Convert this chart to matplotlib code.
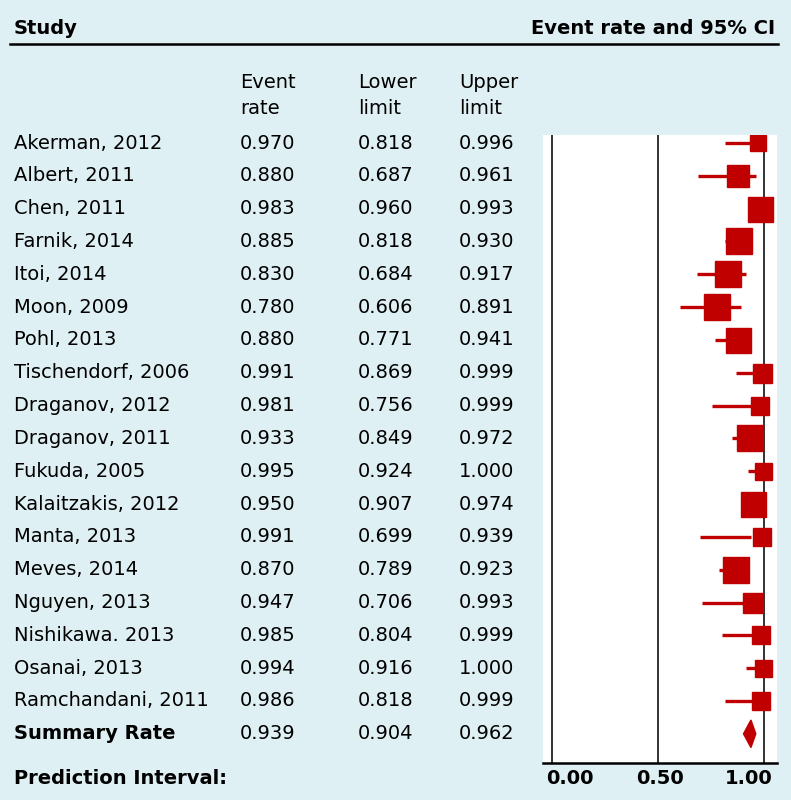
import matplotlib.pyplot as plt
from matplotlib.transforms import blended_transform_factory, ScaledTranslation
from matplotlib.patches import Polygon

studies = ['Akerman, 2012', 'Albert, 2011', 'Chen, 2011', 'Farnik, 2014', 'Itoi, 2014',
           'Moon, 2009', 'Pohl, 2013', 'Tischendorf, 2006', 'Draganov, 2012',
           'Draganov, 2011', 'Fukuda, 2005', 'Kalaitzakis, 2012', 'Manta, 2013',
           'Meves, 2014', 'Nguyen, 2013', 'Nishikawa. 2013', 'Osanai, 2013',
           'Ramchandani, 2011']
rate = [0.970, 0.880, 0.983, 0.885, 0.830, 0.780, 0.880, 0.991, 0.981, 0.933,
        0.995, 0.950, 0.991, 0.870, 0.947, 0.985, 0.994, 0.986]
lower = [0.818, 0.687, 0.960, 0.818, 0.684, 0.606, 0.771, 0.869, 0.756, 0.849,
         0.924, 0.907, 0.699, 0.789, 0.706, 0.804, 0.916, 0.818]
upper = [0.996, 0.961, 0.993, 0.930, 0.917, 0.891, 0.941, 0.999, 0.999, 0.972,
         1.000, 0.974, 0.939, 0.923, 0.993, 0.999, 1.000, 0.999]
# relative study weights (square side)
weights = [16, 22, 25, 27, 26, 26, 25, 19, 18, 26, 17, 25, 18, 27, 20, 18, 17, 18]
summary = (0.939, 0.904, 0.962)
ticks = [0, 0.5, 1.0]

bg = '#dff0f4'
red = '#c00000'
W, H = 791, 800

fig = plt.figure(figsize=(W / 100, H / 100), dpi=100, facecolor=bg)
plt.rcParams['font.family'] = 'DejaVu Sans'

# forest panel
x0, x1, ytop, ybot = 543, 777, 135, 763
ax = fig.add_axes([x0 / W, 1 - ybot / H, (x1 - x0) / W, (ybot - ytop) / H])
ax.set_facecolor('white')
ax.set_xlim(-0.042, 1.062)
ax.set_ylim(18.89, -0.244)
for s in ['top', 'right', 'left']:
    ax.spines[s].set_visible(False)
ax.spines['bottom'].set_linewidth(1.8)
ax.set_yticks([])
ax.set_xticks([])
# tick labels in the original are spread over the panel, not centred on the lines
tick_tr = blended_transform_factory(ax.transData, fig.transFigure)
for t, dx in zip(ticks, [0.18, 0.02, -0.15]):
    ax.text(t, 1 - 778 / H, f'{t:.2f}', fontweight='bold', fontsize=14, ha='center',
            va='center', transform=tick_tr + ScaledTranslation(dx, 0, fig.dpi_scale_trans),
            clip_on=False)
for v in ticks:
    ax.axvline(v, color='#222222', lw=1.3, zorder=1)

for i in range(len(studies)):
    ax.plot([lower[i], upper[i]], [i, i], color=red, lw=2.4, solid_capstyle='butt', zorder=2)
    ax.plot(rate[i], i, marker='s', ms=weights[i] * 0.72, color=red, mec=red, zorder=3)

r, lo, hi = summary
ns = len(studies)
ax.add_patch(Polygon([(lo, ns), (r, ns - 0.42), (hi, ns), (r, ns + 0.42)],
                     closed=True, color=red, zorder=3))

# table text
tr = blended_transform_factory(fig.transFigure, ax.transData)
fs = 14
cols = [240 / W, 358 / W, 459 / W]
for i, name in enumerate(studies):
    fig.text(14 / W, i, name, transform=tr, fontsize=fs, va='center')
    for c, val in zip(cols, [rate[i], lower[i], upper[i]]):
        fig.text(c, i, f'{val:.3f}', transform=tr, fontsize=fs, va='center')
fig.text(14 / W, ns, 'Summary Rate', transform=tr, fontsize=fs, va='center', fontweight='bold')
for c, val in zip(cols, summary):
    fig.text(c, ns, f'{val:.3f}', transform=tr, fontsize=fs, va='center')

fig.text(14 / W, 1 - 778 / H, 'Prediction Interval:', fontsize=fs, va='center', fontweight='bold')

# headers
fig.text(14 / W, 1 - 28 / H, 'Study', fontsize=fs, va='center', fontweight='bold')
fig.text(775 / W, 1 - 28 / H, 'Event rate and 95% CI', fontsize=fs, va='center',
         ha='right', fontweight='bold')
fig.add_artist(plt.Line2D([10 / W, 778 / W], [1 - 44 / H, 1 - 44 / H], color='black',
                          lw=1.8, transform=fig.transFigure))
for c, (a, b) in zip(cols, [('Event', 'rate'), ('Lower', 'limit'), ('Upper', 'limit')]):
    fig.text(c, 1 - 82 / H, a, fontsize=fs, va='center')
    fig.text(c, 1 - 108 / H, b, fontsize=fs, va='center')

fig.savefig('out.png', dpi=100, facecolor=bg)
